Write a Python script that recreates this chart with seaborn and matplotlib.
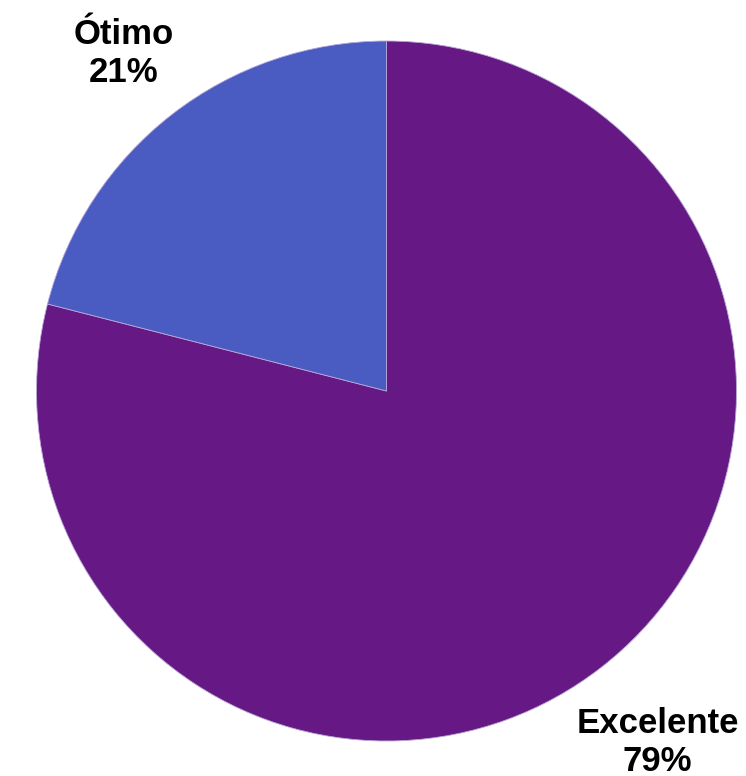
import matplotlib
matplotlib.use("Agg")
import matplotlib.pyplot as plt
import matplotlib.transforms as mtransforms
import seaborn as sns

categories = ["Excelente", "Ótimo"]
values = [79, 21]
colors = ["#661985", "#4A5CC2"]

sns.set_theme(style="white")
plt.rcParams["font.family"] = ["Liberation Sans", "DejaVu Sans"]

W, H = 746, 776
cx, cy, r = 386.5, 391, 350

fig = plt.figure(figsize=(W / 100, H / 100), dpi=100)
ax = fig.add_axes([0, 0, 1, 1])

labels = [f"{c}\n{v}%" for c, v in zip(categories, values)]
wedges, texts = ax.pie(
    values,
    labels=labels,
    colors=colors,
    startangle=90,
    counterclock=False,
    labeldistance=1.245,
    wedgeprops=dict(edgecolor="#B9A8D8", linewidth=0.6),
    textprops=dict(fontsize=25, fontweight="bold", color="black"),
)
# small nudge so the labels sit where the original puts them
nudge = mtransforms.ScaledTranslation(4 / 100, -7 / 100, fig.dpi_scale_trans)
for t in texts:
    t.set_horizontalalignment("center")
    t.set_verticalalignment("center")
    t.set_linespacing(1.2)
    t.set_transform(t.get_transform() + nudge)

ax.set_xlim(-cx / r, (W - cx) / r)
ax.set_ylim(-(H - cy) / r, cy / r)
ax.set_aspect("auto")
ax.axis("off")

fig.savefig("out.png", dpi=100, facecolor="white")
